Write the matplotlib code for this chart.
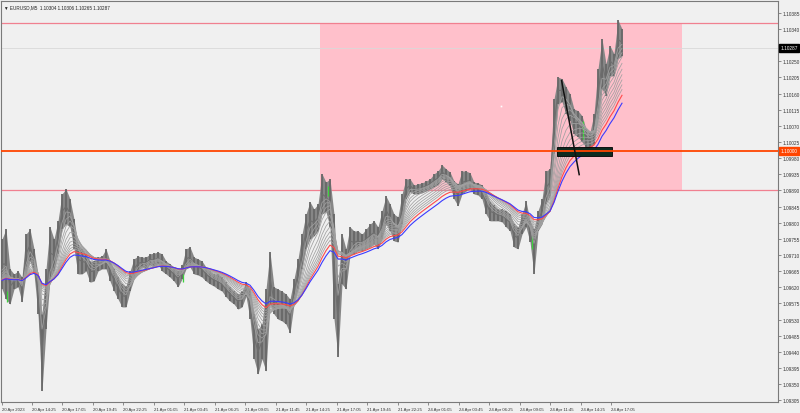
import numpy as np
import matplotlib
matplotlib.use("Agg")
import matplotlib.pyplot as plt
from matplotlib.patches import Rectangle

# ---------------- data (EURUSD M5, one entry per ~20-minute bin) ----------------
high = [1.09754, 1.09782, 1.09671, 1.09657, 1.09665, 1.09648, 1.09768, 1.09782, 1.09727, 1.09657,
        1.09545, 1.09671, 1.09788, 1.09754, 1.09805, 1.09880, 1.09894, 1.09866, 1.09810, 1.09740,
        1.09727, 1.09713, 1.09693, 1.09693, 1.09704, 1.09707, 1.09727, 1.09693, 1.09671, 1.09648,
        1.09629, 1.09623, 1.09665, 1.09699, 1.09707, 1.09704, 1.09704, 1.09713, 1.09715, 1.09718,
        1.09713, 1.09693, 1.09685, 1.09676, 1.09665, 1.09682, 1.09727, 1.09732, 1.09704, 1.09699,
        1.09693, 1.09676, 1.09665, 1.09657, 1.09657, 1.09648, 1.09634, 1.09621, 1.09609, 1.09601,
        1.09609, 1.09634, 1.09615, 1.09545, 1.09503, 1.09517, 1.09615, 1.09718, 1.09621, 1.09615,
        1.09609, 1.09601, 1.09587, 1.09643, 1.09699, 1.09768, 1.09824, 1.09858, 1.09838, 1.09852,
        1.09936, 1.09913, 1.09922, 1.09824, 1.09629, 1.09768, 1.09727, 1.09788, 1.09777, 1.09777,
        1.09768, 1.09782, 1.09796, 1.09805, 1.09788, 1.09833, 1.09874, 1.09852, 1.09824, 1.09816,
        1.09880, 1.09922, 1.09922, 1.09905, 1.09908, 1.09911, 1.09916, 1.09922, 1.09936, 1.09944,
        1.09961, 1.09950, 1.09941, 1.09916, 1.09908, 1.09944, 1.09944, 1.09939, 1.09913, 1.09911,
        1.09905, 1.09886, 1.09858, 1.09849, 1.09838, 1.09838, 1.09833, 1.09824, 1.09796, 1.09788,
        1.09824, 1.09860, 1.09805, 1.09782, 1.09833, 1.09866, 1.09944, 1.09950, 1.10145, 1.10206,
        1.10201, 1.10179, 1.10159, 1.10117, 1.10112, 1.10098, 1.10061, 1.10053, 1.10103, 1.10229,
        1.10312, 1.10243, 1.10293, 1.10271, 1.10365, 1.10340]
low = [1.09615, 1.09587, 1.09573, 1.09615, 1.09621, 1.09579, 1.09657, 1.09693, 1.09657, 1.09545,
       1.09330, 1.09503, 1.09643, 1.09665, 1.09713, 1.09782, 1.09796, 1.09788, 1.09727, 1.09657,
       1.09657, 1.09665, 1.09634, 1.09637, 1.09665, 1.09671, 1.09671, 1.09637, 1.09609, 1.09587,
       1.09565, 1.09565, 1.09609, 1.09643, 1.09665, 1.09676, 1.09671, 1.09682, 1.09676, 1.09685,
       1.09665, 1.09657, 1.09648, 1.09637, 1.09621, 1.09643, 1.09671, 1.09676, 1.09657, 1.09654,
       1.09648, 1.09637, 1.09629, 1.09623, 1.09615, 1.09609, 1.09593, 1.09581, 1.09573, 1.09559,
       1.09565, 1.09595, 1.09531, 1.09420, 1.09378, 1.09420, 1.09386, 1.09573, 1.09545, 1.09531,
       1.09526, 1.09517, 1.09492, 1.09573, 1.09615, 1.09671, 1.09727, 1.09754, 1.09763, 1.09777,
       1.09824, 1.09830, 1.09788, 1.09531, 1.09425, 1.09629, 1.09615, 1.09710, 1.09713, 1.09721,
       1.09721, 1.09727, 1.09732, 1.09740, 1.09727, 1.09754, 1.09796, 1.09777, 1.09749, 1.09746,
       1.09796, 1.09866, 1.09886, 1.09880, 1.09880, 1.09883, 1.09888, 1.09894, 1.09900, 1.09905,
       1.09922, 1.09913, 1.09902, 1.09866, 1.09847, 1.09880, 1.09888, 1.09894, 1.09880, 1.09877,
       1.09866, 1.09824, 1.09805, 1.09805, 1.09805, 1.09802, 1.09788, 1.09777, 1.09732, 1.09727,
       1.09768, 1.09788, 1.09746, 1.09657, 1.09777, 1.09796, 1.09852, 1.09874, 1.09992, 1.10131,
       1.10137, 1.10103, 1.10084, 1.10047, 1.10039, 1.10025, 1.10011, 1.10006, 1.10019, 1.10089,
       1.10173, 1.10153, 1.10209, 1.10209, 1.10257, 1.10265]

# a few bars highlighted in green on the chart
green_bin = [1.25, 45.2, 81.5, 132.5, 145.2]
green_low = [1.09579, 1.09634, 1.09874, 1.09727, 1.10033]
green_high = [1.09609, 1.09657, 1.09902, 1.09763, 1.10084]

ma_seed = 1.09634
grey_periods = [2, 3, 4, 5, 6.5, 8, 9.5, 11, 12.5, 14]
red_period = 16
blue_period = 19

time_labels = ["20 Apr 2023", "20 Apr 14:25", "20 Apr 17:05", "20 Apr 19:45", "20 Apr 22:25",
               "21 Apr 01:05", "21 Apr 03:45", "21 Apr 06:25", "21 Apr 09:05", "21 Apr 11:45",
               "21 Apr 14:25", "21 Apr 17:05", "21 Apr 19:45", "21 Apr 22:25", "24 Apr 01:05",
               "24 Apr 03:45", "24 Apr 06:25", "24 Apr 09:05", "24 Apr 11:45", "24 Apr 14:25",
               "24 Apr 17:05"]
price_ticks = [1.09305, 1.09350, 1.09395, 1.09440, 1.09485, 1.09530, 1.09575, 1.09620, 1.09665,
               1.09710, 1.09755, 1.09800, 1.09845, 1.09890, 1.09935, 1.09980, 1.10025, 1.10070,
               1.10115, 1.10160, 1.10205, 1.10250, 1.10340, 1.10385]

zone_top, zone_bottom = 1.10357, 1.09892
zone_start, zone_end = 79.5, 170.0
level_price = 1.10000
last_price = 1.10287
title = "\u25bc EURUSD,M5  1.10304 1.10306 1.10265 1.10287"
box_lo, box_hi = 1.09986, 1.10011
box_start, box_end = 138.75, 152.5
trend_x = [139.9, 144.3]
trend_y = [1.10196, 1.09934]
dot_x, dot_y = 124.75, 1.10125

# ---------------- figure ----------------
BG = "#f0f0f0"
fig = plt.figure(figsize=(8, 4.14), dpi=100, facecolor=BG)
ax = fig.add_axes([1 / 800, 11 / 414, 777 / 800, 401 / 414])
ax.set_facecolor(BG)

high = np.array(high)
low = np.array(low)
x = np.arange(len(high))
mid = (high + low) / 2


def ema(series, period, seed):
    a = 2.0 / (period + 1.0)
    out = np.empty_like(series)
    v = seed
    for i, s in enumerate(series):
        v = v + a * (s - v)
        out[i] = v
    return out


# zone and levels
ax.add_patch(Rectangle((zone_start, zone_bottom), zone_end - zone_start, zone_top - zone_bottom,
                       facecolor="#ffc0cb", edgecolor="none", zorder=0))
ax.axhline(zone_top, color="#f08090", lw=0.9, zorder=1)
ax.axhline(zone_bottom, color="#f08090", lw=0.9, zorder=1)
ax.axhline(last_price, color="#d9d9d9", lw=0.6, zorder=1)
ax.plot([dot_x], [dot_y], marker="s", ms=1.2, color="white", mec="none", zorder=1)

# price bars: a continuous band with darker bar strokes
ax.fill_between(x, low, high, color="#868686", lw=0, zorder=2)
ax.vlines(x, low, high, color="#676767", lw=1.3, zorder=3)
ax.plot(x, mid, color="#6e6e6e", lw=0.8, zorder=3)
ax.vlines(green_bin, green_low, green_high, color="#3cd23c", lw=0.9, zorder=3)

# moving average fan
for p in grey_periods:
    ax.plot(x, ema(mid, p, ma_seed), color="#a0a0a0", lw=0.55, zorder=4)
ax.plot(x, ema(mid, red_period, ma_seed), color="#ff4a4a", lw=0.8, zorder=5)
ax.plot(x, ema(mid, blue_period, ma_seed), color="#3a3aff", lw=0.8, zorder=5)

# orange level, dark box, trend line
ax.add_patch(Rectangle((box_start, box_lo), box_end - box_start, box_hi - box_lo,
                       facecolor="#0d2b20", edgecolor="#000000", lw=0.6, zorder=6))
ax.axhline(level_price, color="#ff4500", lw=1.3, zorder=7)
ax.plot(trend_x, trend_y, color="#111111", lw=1.1, zorder=8)

ax.set_xlim(-0.25, 194)
ax.set_ylim(1.09300, 1.10418)

# axes styling
for s in ax.spines.values():
    s.set_color("#7a7a7a")
    s.set_linewidth(0.8)

tick_pos = np.arange(len(time_labels)) * 7.625 - 0.125
ax.set_xticks(tick_pos)
ax.set_xticklabels(time_labels, ha="left")
ax.tick_params(axis="x", length=2.5, width=0.6, color="#7a7a7a", labelsize=3.1,
               pad=1.2, labelcolor="#333333")

ax.yaxis.tick_right()
ax.set_yticks(price_ticks)
ax.set_yticklabels([f"{v:.5f}" for v in price_ticks])
ax.tick_params(axis="y", length=2, width=0.6, color="#7a7a7a", labelsize=3.4,
               pad=1.5, labelcolor="#333333")

for lbl in ax.get_xticklabels() + ax.get_yticklabels():
    lbl.set_fontfamily("Liberation Sans")

ax.text(0.004, 0.992, title, transform=ax.transAxes, va="top", ha="left",
        fontsize=3.3, family="Liberation Sans", color="#222222")

# price boxes on the axis
for price, fc in [(last_price, "#000000"), (level_price, "#ff4500")]:
    ax.annotate(f"{price:.5f}", xy=(1.0, price), xycoords=("axes fraction", "data"),
                xytext=(1.6, 0), textcoords="offset points", va="center", ha="left",
                fontsize=3.4, family="Liberation Sans", color="white", zorder=20,
                annotation_clip=False,
                bbox=dict(boxstyle="square,pad=0.35", fc=fc, ec=fc))

fig.savefig("out.png", dpi=100, facecolor=BG)
